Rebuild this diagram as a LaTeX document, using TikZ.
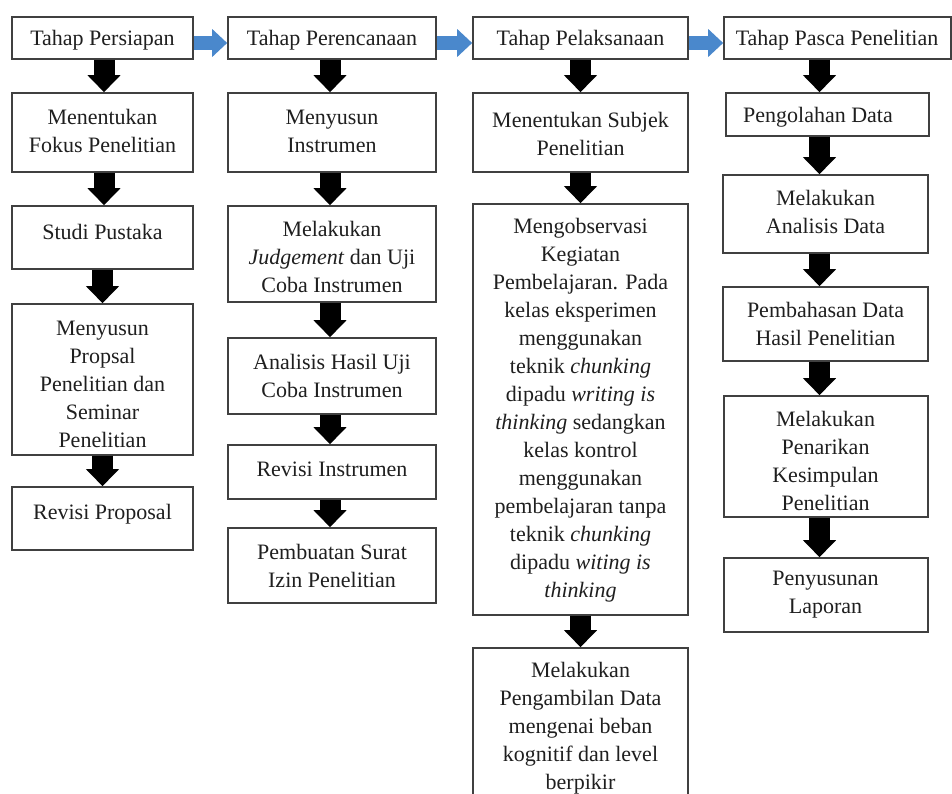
\documentclass[tikz,border=0pt]{standalone}
\usepackage{fontspec}
\setmainfont{Liberation Serif}
\usetikzlibrary{arrows.meta,fit}
\definecolor{flowblue}{RGB}{74,136,204}
\tikzset{
  box/.style={draw=black!75, line width=1.6pt, inner sep=0pt, fill=white},
  txt/.style={font=\fontsize{22}{28}\selectfont, text=black!88, align=center, inner sep=0pt, yshift=-2pt},
  blk/.style={line width=21pt, draw=black, -{Triangle[width=32pt,length=17pt]}},
  blu/.style={line width=14pt, draw=flowblue, -{Triangle[width=27pt,length=15pt]}},
}
\begin{document}
\begin{tikzpicture}[x=1pt,y=-1pt]
\useasboundingbox (0,0) rectangle (952,794);
\clip (0,0) rectangle (952,794);
% column 1
\node[box, fit={(12,17) (193,59)}] (p1) {};
\node[txt] (tp1) at (102.5,38) {Tahap Persiapan};
\node[box, fit={(12,93) (193,172)}] (p2) {};
\node[txt] (tp2) at (102.5,129) {Menentukan\\Fokus Penelitian};
\node[box, fit={(12,206) (193,269)}] (p3) {};
\node[txt] (tp3) at (102.5,230) {Studi Pustaka};
\node[box, fit={(12,304) (193,455)}] (p4) {};
\node[txt] (tp4) at (102.5,382) {Menyusun\\Propsal\\Penelitian dan\\Seminar\\Penelitian};
\node[box, fit={(12,487) (193,550)}] (p5) {};
\node[txt] (tp5) at (102.5,512) {Revisi Proposal};
% column 2
\node[box, fit={(228,17) (436,59)}] (r1) {};
\node[txt] (tr1) at (332,38) {Tahap Perencanaan};
\node[box, fit={(228,93) (436,172)}] (r2) {};
\node[txt] (tr2) at (332,129) {Menyusun\\Instrumen};
\node[box, fit={(228,206) (436,302)}] (r3) {};
\node[txt] (tr3) at (332,255) {Melakukan\\\textit{Judgement} dan Uji\\Coba Instrumen};
\node[box, fit={(228,338) (436,414)}] (r4) {};
\node[txt] (tr4) at (332,373.5) {Analisis Hasil Uji\\Coba Instrumen};
\node[box, fit={(228,445) (436,499)}] (r5) {};
\node[txt] (tr5) at (332,467) {Revisi Instrumen};
\node[box, fit={(228,528) (436,603)}] (r6) {};
\node[txt] (tr6) at (332,563.5) {Pembuatan Surat\\Izin Penelitian};
% column 3
\node[box, fit={(473,17) (688,59)}] (l1) {};
\node[txt] (tl1) at (580.5,38) {Tahap Pelaksanaan};
\node[box, fit={(473,93) (688,172)}] (l2) {};
\node[txt] (tl2) at (580.5,132) {Menentukan Subjek\\Penelitian};
\node[box, fit={(473,204) (688,615)}] (l3) {};
\node[txt] (tl3) at (580.5,408) {Mengobservasi\\Kegiatan\\Pembelajaran. Pada\\kelas eksperimen\\menggunakan\\teknik \textit{chunking}\\dipadu \textit{writing is}\\\textit{thinking} sedangkan\\kelas kontrol\\menggunakan\\pembelajaran tanpa\\teknik \textit{chunking}\\dipadu \textit{witing is}\\\textit{thinking}};
\node[box, fit={(473,648) (688,830)}] (l4) {};
\node[txt] (tl4) at (580.5,726) {Melakukan\\Pengambilan Data\\mengenai beban\\kognitif dan level\\berpikir};
% column 4
\node[box, fit={(724,17) (951,59)}] (s1) {};
\node[txt] (ts1) at (837,38) {Tahap Pasca Penelitian};
\node[box, fit={(726,93) (929,136)}] (s2) {};
\node[txt] (ts2) at (818,115) {Pengolahan Data};
\node[box, fit={(723,175) (928,253)}] (s3) {};
\node[txt] (ts3) at (825.5,210) {Melakukan\\Analisis Data};
\node[box, fit={(723,287) (928,361)}] (s4) {};
\node[txt] (ts4) at (825.5,322) {Pembahasan Data\\Hasil Penelitian};
\node[box, fit={(724,396) (928,517)}] (s5) {};
\node[txt] (ts5) at (825.5,459) {Melakukan\\Penarikan\\Kesimpulan\\Penelitian};
\node[box, fit={(724,558) (928,632)}] (s6) {};
\node[txt] (ts6) at (825.5,593) {Penyusunan\\Laporan};
\coordinate (c4) at ([xshift=-6pt]s3.north);
% blue arrows
\draw[blu] ([yshift=-5pt]p1.east) -- ([yshift=-5pt]r1.west);
\draw[blu] ([yshift=-5pt]r1.east) -- ([yshift=-5pt]l1.west);
\draw[blu] ([yshift=-5pt]l1.east) -- ([yshift=-5pt]s1.west);
% black arrows column 1
\draw[blk] ([xshift=1.5pt]p1.south) -- ([xshift=1.5pt]p2.north);
\draw[blk] ([xshift=1.5pt]p2.south) -- ([xshift=1.5pt]p3.north);
\draw[blk] (p3.south) -- (p4.north);
\draw[blk] (p4.south) -- (p5.north);
% column 2
\draw[blk] ([xshift=-2pt]r1.south) -- ([xshift=-2pt]r2.north);
\draw[blk] ([xshift=-2pt]r2.south) -- ([xshift=-2pt]r3.north);
\draw[blk] ([xshift=-2pt]r3.south) -- ([xshift=-2pt]r4.north);
\draw[blk] ([xshift=-2pt]r4.south) -- ([xshift=-2pt]r5.north);
\draw[blk] ([xshift=-2pt]r5.south) -- ([xshift=-2pt]r6.north);
% column 3
\draw[blk] (l1.south) -- (l2.north);
\draw[blk] (l2.south) -- (l3.north);
\draw[blk] (l3.south) -- (l4.north);
% column 4
\draw[blk] (s1.south -| c4) -- (s2.north -| c4);
\draw[blk] (s2.south -| c4) -- (s3.north -| c4);
\draw[blk] (s3.south -| c4) -- (s4.north -| c4);
\draw[blk] (s4.south -| c4) -- (s5.north -| c4);
\draw[blk] (s5.south -| c4) -- (s6.north -| c4);
\end{tikzpicture}
\end{document}
